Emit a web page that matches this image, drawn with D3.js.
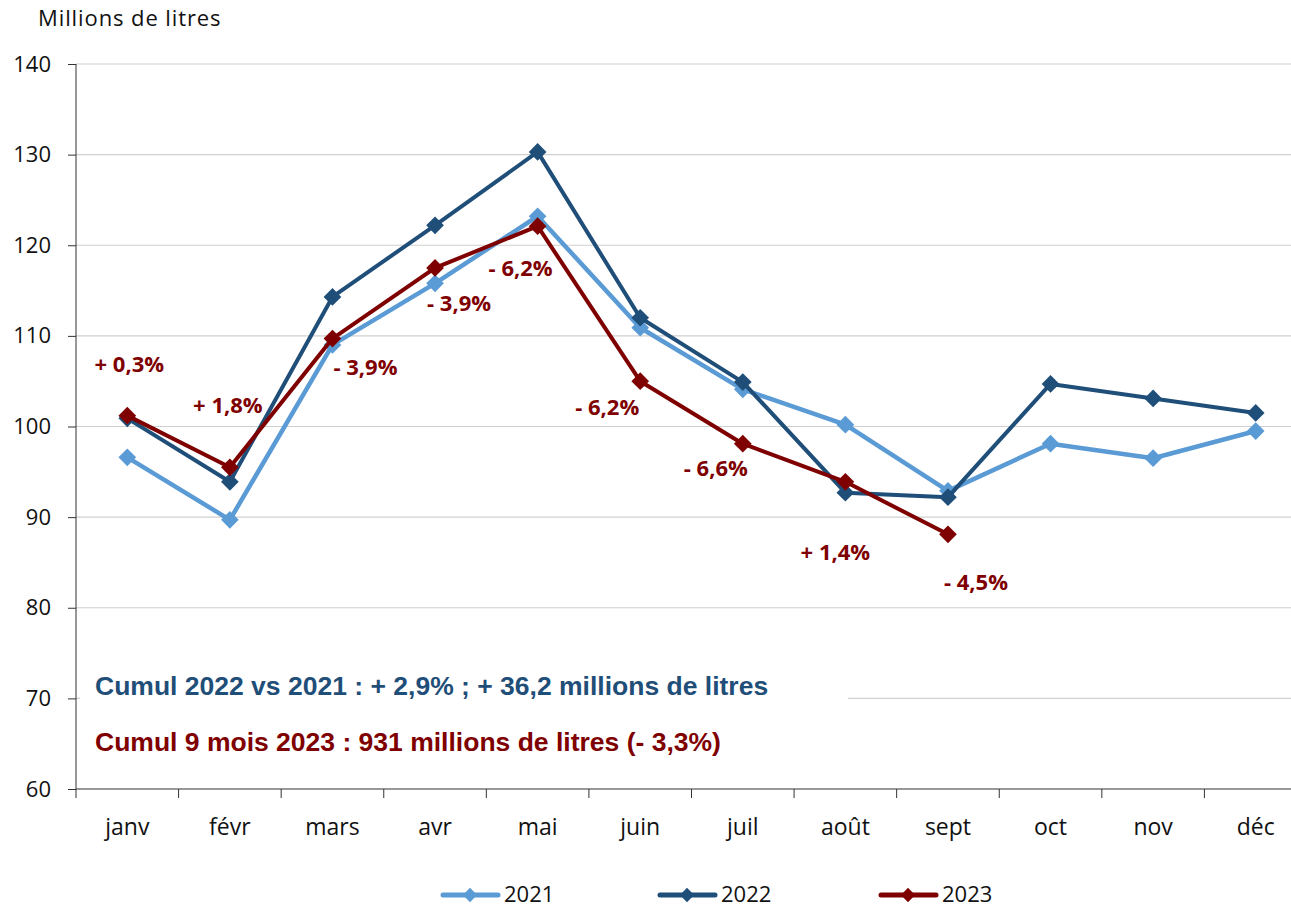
<!DOCTYPE html>
<html>
<head>
<meta charset="utf-8">
<script src="https://cdn.jsdelivr.net/npm/d3@7"></script>
<style>
  body { margin: 0; background: #fff; }
  svg { display: block; }
  text { font-family: "Open Sans", Lato, sans-serif; }
</style>
</head>
<body>
<svg width="1291" height="910"></svg>
<script>
let months = ["janv", "févr", "mars", "avr", "mai", "juin", "juil", "août", "sept", "oct", "nov", "déc"];
let v2021 = [96.6, 89.7, 109.0, 115.8, 123.2, 110.9, 104.1, 100.2, 92.9, 98.1, 96.5, 99.5];
let v2022 = [100.9, 93.9, 114.3, 122.2, 130.3, 112.0, 104.9, 92.7, 92.2, 104.7, 103.1, 101.5];
let v2023 = [101.2, 95.5, 109.7, 117.5, 122.1, 105.0, 98.1, 93.9, 88.1];
let pctLabels = ["+ 0,3%", "+ 1,8%", "- 3,9%", "- 3,9%", "- 6,2%", "- 6,2%", "- 6,6%", "+ 1,4%", "- 4,5%"];
let yTicks = [60, 70, 80, 90, 100, 110, 120, 130, 140];
let cumul2022 = "Cumul 2022 vs 2021 : + 2,9% ; + 36,2 millions de litres";
let cumul2023 = "Cumul 9 mois 2023 : 931 millions de litres (- 3,3%)";

let series = [
    {name: "2021", values: v2021, color: "#5b9bd5", width: 4.5},
    {name: "2022", values: v2022, color: "#1f4e79", width: 4},
    {name: "2023", values: v2023, color: "#7f0000", width: 4}
];

// label offsets relative to the 2023 point (pixels)
let labelOffsets = [[2, -44], [-2, -54], [33, 36], [24, 43], [-17, 50], [-33, 34], [-27, 32], [-10, 78], [28, 56]];

let svg = d3.select("svg"),
    margin = {top: 64, left: 76, bottom: 121},
    plotRight = 1307,
    height = +svg.attr("height") - margin.top - margin.bottom;

let x = d3.scaleBand().domain(months).range([margin.left, plotRight]);
let y = d3.scaleLinear().domain([60, 140]).range([margin.top + height, margin.top]);
let cx = m => x(m) + x.bandwidth() / 2;

// gridlines
svg.append("g")
    .selectAll("line")
    .data(yTicks.filter(d => d !== 60))
    .join("line")
    .attr("x1", margin.left).attr("x2", plotRight)
    .attr("y1", d => y(d)).attr("y2", d => y(d))
    .attr("stroke", "#d0d0d0").attr("stroke-width", 1.2);

// white box behind the cumul notes (hides the 70 gridline)
svg.append("rect")
    .attr("x", margin.left + 4).attr("y", y(70) - 30)
    .attr("width", 768).attr("height", 80)
    .attr("fill", "#fff");

// y axis
let yAxis = svg.append("g")
    .attr("transform", "translate(" + margin.left + ",0)")
    .call(d3.axisLeft(y).tickValues(yTicks).tickSize(8).tickPadding(17));
yAxis.select(".domain").attr("stroke", "#333").attr("d", "M0," + y(140) + "V" + y(60));
yAxis.selectAll(".tick line").attr("stroke", "#333");
yAxis.selectAll("text").attr("font-size", 22).attr("fill", "#111")
    .style("font-family", "'Open Sans', sans-serif");

// x axis
let xAxis = svg.append("g")
    .attr("transform", "translate(0," + y(60) + ")");
xAxis.append("line")
    .attr("x1", margin.left).attr("x2", plotRight)
    .attr("stroke", "#333").attr("stroke-width", 1.2);
xAxis.selectAll(".xt")
    .data(months)
    .join("line")
    .attr("class", "xt")
    .attr("x1", d => x(d)).attr("x2", d => x(d))
    .attr("y1", 0).attr("y2", 9)
    .attr("stroke", "#333");
xAxis.selectAll(".xl")
    .data(months)
    .join("text")
    .attr("class", "xl")
    .attr("x", d => cx(d)).attr("y", 46)
    .attr("text-anchor", "middle")
    .attr("font-size", 23).attr("fill", "#111")
    .text(d => d);

// y axis title
svg.append("text")
    .attr("x", 38).attr("y", 26)
    .attr("font-size", 22).attr("fill", "#111")
    .attr("letter-spacing", 0.9)
    .text("Millions de litres");

// lines and markers
let line = d3.line()
    .x((d, i) => cx(months[i]))
    .y(d => y(d));

let diamond = d3.symbol().type(d3.symbolDiamond2).size(200);

series.forEach(s => {
    let g = svg.append("g");
    g.append("path")
        .datum(s.values)
        .attr("d", line)
        .attr("fill", "none")
        .attr("stroke", s.color)
        .attr("stroke-width", s.width)
        .attr("stroke-linejoin", "round");
    g.selectAll("path.pt")
        .data(s.values)
        .join("path")
        .attr("class", "pt")
        .attr("d", diamond)
        .attr("transform", (d, i) => "translate(" + cx(months[i]) + "," + y(d) + ")")
        .attr("fill", s.color);
});

// percentage labels for 2023
svg.append("g")
    .selectAll("text")
    .data(pctLabels)
    .join("text")
    .attr("x", (d, i) => cx(months[i]) + labelOffsets[i][0])
    .attr("y", (d, i) => y(v2023[i]) + labelOffsets[i][1])
    .attr("text-anchor", "middle")
    .attr("font-size", 22).attr("font-weight", 700)
    .attr("fill", "#7f0000")
    .text(d => d);

// cumul notes
svg.append("text")
    .attr("x", 95).attr("y", 695)
    .attr("font-size", 26.5).attr("font-weight", 700)
    .attr("fill", "#1f4e79")
    .style("font-family", "'Liberation Sans', Arial, sans-serif")
    .text(cumul2022);
svg.append("text")
    .attr("x", 95).attr("y", 751)
    .attr("font-size", 26.5).attr("font-weight", 700)
    .attr("fill", "#7f0000")
    .style("font-family", "'Liberation Sans', Arial, sans-serif")
    .text(cumul2023);

// legend
let legendX = [443, 660, 881];
let legend = svg.append("g")
    .selectAll("g")
    .data(series)
    .join("g")
    .attr("transform", (d, i) => "translate(" + legendX[i] + ",895)");
legend.append("line")
    .attr("x1", 0).attr("x2", 55)
    .attr("stroke", d => d.color).attr("stroke-width", 5)
    .attr("stroke-linecap", "round");
legend.append("path")
    .attr("d", d3.symbol().type(d3.symbolDiamond2).size(130))
    .attr("transform", "translate(27,0)")
    .attr("fill", d => d.color);
legend.append("text")
    .attr("x", 61).attr("y", 7)
    .attr("font-size", 22).attr("fill", "#111")
    .text(d => d.name);
</script>
</body>
</html>
